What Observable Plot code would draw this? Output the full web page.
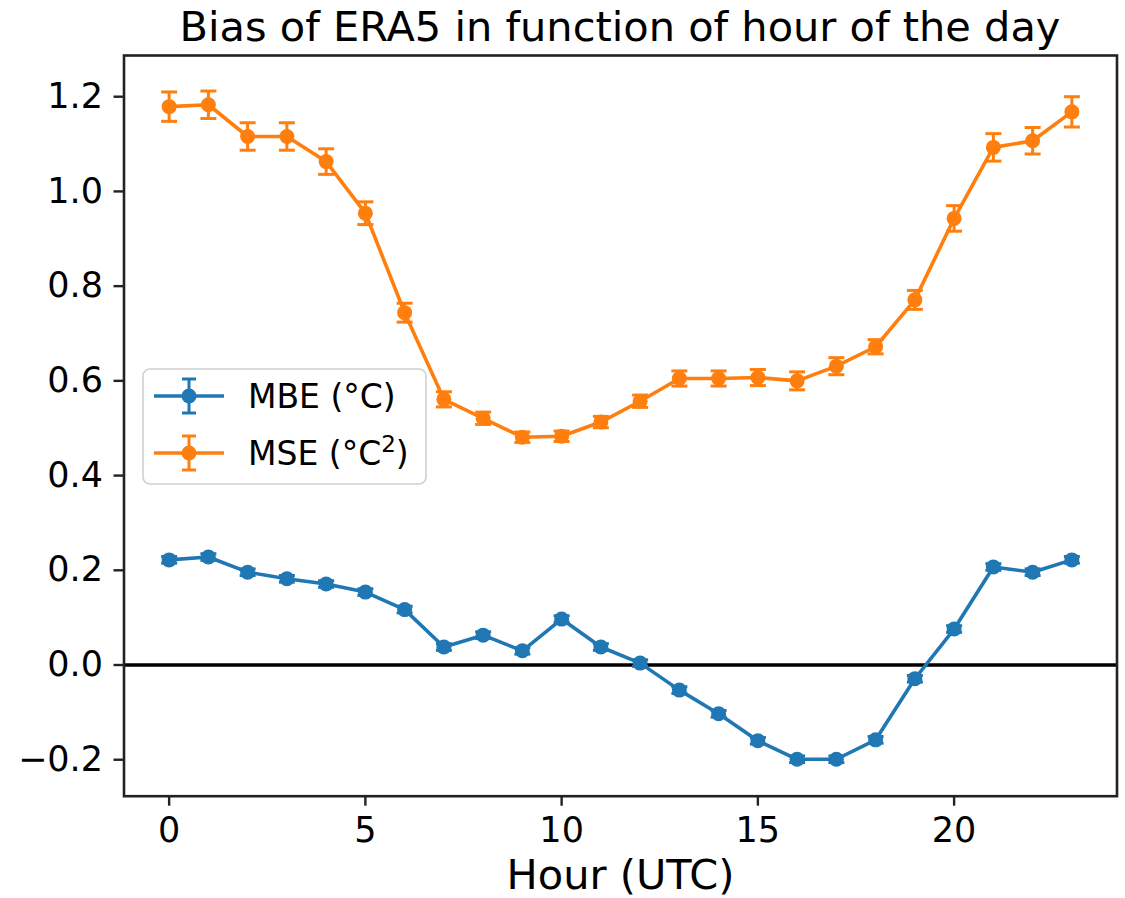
<!DOCTYPE html>
<html><head><meta charset="utf-8">
<script src="https://cdn.jsdelivr.net/npm/d3@7"></script>
<script src="https://cdn.jsdelivr.net/npm/@observablehq/plot@0.6"></script>
<style>
body{margin:0;background:#fff;font-family:"DejaVu Sans",sans-serif;}
#wrap{position:relative;width:1125px;height:898px;overflow:hidden;}
#title{position:absolute;left:123.5px;width:993px;top:0;height:55px;text-align:center;font-size:41.5px;line-height:53px;color:#000;white-space:nowrap;}
#chart{position:absolute;left:0;top:53px;}
#legend{position:absolute;left:141.7px;top:368px;}
</style></head><body>
<div id="wrap"><div id="title">Bias of ERA5 in function of hour of the day</div><div id="chart"></div><div id="legend"></div></div>
<script>
const hours = [0,1,2,3,4,5,6,7,8,9,10,11,12,13,14,15,16,17,18,19,20,21,22,23];
const mbe = [0.222,0.228,0.196,0.182,0.171,0.154,0.117,0.038,0.063,0.030,0.097,0.038,0.004,-0.053,-0.103,-0.160,-0.199,-0.199,-0.158,-0.029,0.076,0.207,0.196,0.222];
const mbeErr = [0.007,0.007,0.007,0.007,0.007,0.007,0.007,0.007,0.007,0.007,0.007,0.007,0.007,0.007,0.007,0.007,0.007,0.007,0.007,0.007,0.007,0.007,0.007,0.007];
const mse = [1.179,1.183,1.116,1.116,1.063,0.954,0.744,0.561,0.521,0.481,0.483,0.513,0.557,0.605,0.605,0.607,0.600,0.631,0.672,0.771,0.943,1.093,1.107,1.168];
const mseErr = [0.031,0.029,0.029,0.029,0.027,0.024,0.020,0.016,0.013,0.011,0.011,0.012,0.013,0.016,0.016,0.017,0.019,0.018,0.015,0.020,0.027,0.029,0.028,0.032];
const seriesNames = ["MBE (°C)", "MSE (°C²)"];
const seriesColors = ["#1f77b4", "#ff7f0e"];
const yTicks = [-0.2,0,0.2,0.4,0.6,0.8,1.0,1.2];
const xTicks = [0,5,10,15,20];
const xLabel = "Hour (UTC)";

const rows = [];
hours.forEach((h,i) => rows.push({hour:h, series:seriesNames[0], v:mbe[i], e:mbeErr[i]}));
hours.forEach((h,i) => rows.push({hour:h, series:seriesNames[1], v:mse[i], e:mseErr[i]}));

const capSymbol = {draw(ctx, size){ const r = Math.sqrt(size/Math.PI); ctx.moveTo(-r,0); ctx.lineTo(r,0); }};
const fmt = d => d.toFixed(1).replace("-", "\u2212");

function seriesMarks(name, color){
  const d = rows.filter(r => r.series === name);
  return [
    Plot.line(d, {x:"hour", y:"v", stroke:color, strokeWidth:3.6}),
    Plot.ruleX(d, {x:"hour", y1:r=>r.v-r.e, y2:r=>r.v+r.e, stroke:color, strokeWidth:3}),
    Plot.dot(d, {x:"hour", y:r=>r.v+r.e, symbol:capSymbol, r:8, stroke:color, strokeWidth:3, fill:"none"}),
    Plot.dot(d, {x:"hour", y:r=>r.v-r.e, symbol:capSymbol, r:8, stroke:color, strokeWidth:3, fill:"none"}),
    Plot.dot(d, {x:"hour", y:"v", r:7.5, fill:color, stroke:"none"})
  ];
}

const chart = Plot.plot({
  width:1125, height:845,
  marginTop:2, marginBottom:102.3, marginLeft:123.5, marginRight:8.5,
  style:{fontFamily:"DejaVu Sans", fontSize:"35px", color:"#000", background:"transparent", overflow:"visible"},
  x:{domain:[-1.15,24.15]},
  y:{domain:[-0.277,1.287]},
  marks:[
    Plot.ruleY([0], {stroke:"#000", strokeWidth:3.5}),
    ...seriesMarks(seriesNames[0], seriesColors[0]),
    ...seriesMarks(seriesNames[1], seriesColors[1]),
    Plot.frame({stroke:"#222", strokeWidth:2.6}),
    Plot.axisY({ticks:yTicks, tickFormat:fmt, tickSize:10, tickPadding:11, strokeWidth:2.4, stroke:"#222", label:null, fontSize:35}),
    Plot.axisX({ticks:xTicks, tickFormat:d=>String(d), tickSize:10, tickPadding:11, strokeWidth:2.4, stroke:"#222", label:null, fontSize:35}),
    Plot.text([xLabel], {frameAnchor:"bottom", text:d=>d, dy:93, fontSize:41.5, fill:"#000"})
  ]
});
document.getElementById("chart").appendChild(chart);

// legend
const lg = d3.select("#legend").append("svg").attr("width",286).attr("height",118);
lg.append("rect").attr("x",1).attr("y",1).attr("width",283).attr("height",115).attr("rx",7)
  .attr("fill","rgba(255,255,255,0.8)").attr("stroke","#d0d0d0").attr("stroke-width",1.6);
seriesNames.forEach((name,i) => {
  const cy = 28 + i*57, c = seriesColors[i];
  const g = lg.append("g");
  g.append("line").attr("x1",12).attr("x2",82).attr("y1",cy).attr("y2",cy).attr("stroke",c).attr("stroke-width",3.5);
  g.append("line").attr("x1",47).attr("x2",47).attr("y1",cy-17).attr("y2",cy+17).attr("stroke",c).attr("stroke-width",3);
  g.append("line").attr("x1",40).attr("x2",54).attr("y1",cy-17).attr("y2",cy-17).attr("stroke",c).attr("stroke-width",3);
  g.append("line").attr("x1",40).attr("x2",54).attr("y1",cy+17).attr("y2",cy+17).attr("stroke",c).attr("stroke-width",3);
  g.append("circle").attr("cx",47).attr("cy",cy).attr("r",7.5).attr("fill",c);
  const t = g.append("text").attr("x",106).attr("y",cy+12).attr("font-size",33).attr("font-family","DejaVu Sans").attr("fill","#000");
  if (name.endsWith("²)")) {
    t.append("tspan").text(name.slice(0,-2));
    t.append("tspan").attr("font-size",23).attr("dy",-13).text("2");
    t.append("tspan").attr("dy",13).text(")");
  } else t.text(name);
});
</script>
</body></html>
